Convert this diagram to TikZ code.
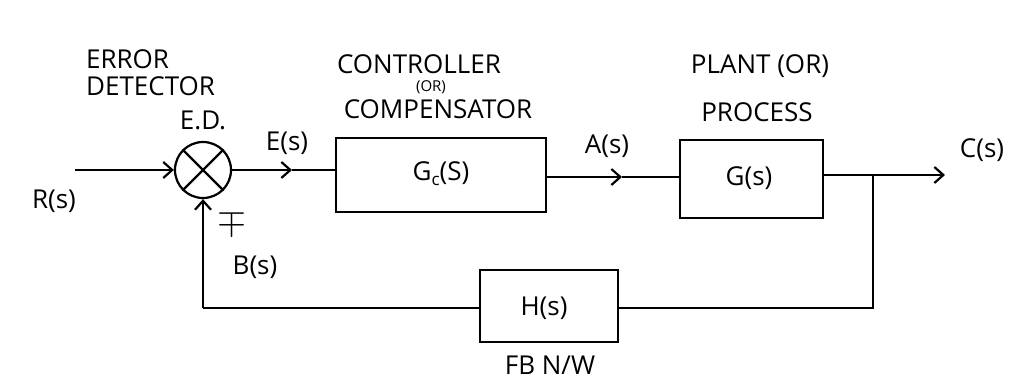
\documentclass[tikz,border=0pt]{standalone}
\usepackage{fontspec}
\setmainfont{Open Sans}
\usetikzlibrary{arrows.meta}
\begin{document}
\begin{tikzpicture}[x=1pt,y=-1pt,
  line width=2.2pt,
  lbl/.style={inner sep=0pt,font=\fontsize{26}{30}\selectfont},
  small/.style={inner sep=0pt,font=\fontsize{15}{17}\selectfont},
  blk/.style={draw,rectangle,inner sep=0pt},
  arr/.style={-{Straight Barb[length=9pt,width=16pt,line width=2.2pt]}}]
\useasboundingbox (0,0) rectangle (1026,380);
\fill[white] (0,0) rectangle (1026,380);
% blocks
\node[draw,circle,minimum size=56pt,inner sep=0pt] (sum) at (203,170) {};
\draw (sum.45) -- (sum.225) (sum.135) -- (sum.315);
\node[blk,minimum width=210pt,minimum height=74pt] (gc) at (441,175) {};
\node[blk,minimum width=143pt,minimum height=78pt] (g) at (751.5,179) {};
\node[blk,minimum width=138pt,minimum height=72pt] (h) at (549,306) {};
% coordinates
\coordinate (rin) at (75,170);
\coordinate (emid) at (292,170);
\coordinate (amid) at (622,177);
\coordinate (gout) at (823,175);
\coordinate (cout) at (945,175);
\coordinate (br) at (873,175);
\coordinate (brb) at (873,308);
\coordinate (fbl) at (203,308);
% connectors
\draw[arr] (rin) -- (sum.west);
\draw[arr] (sum.east) -- (emid);
\draw (emid) -- (emid -| gc.west);
\draw[arr] (gc.east |- amid) -- (amid);
\draw (amid) -- (amid -| g.west);
\draw[arr] (gout) -- (cout);
\draw (br) -- (brb) -- (brb -| h.east);
\draw (h.west |- fbl) -- (fbl);
\draw[arr] (fbl) -- (sum.south);
% labels
\node[lbl] (gctext) at (441,174) {G\raisebox{-0.35ex}{\fontsize{17}{18}\selectfont c}(S)};
\node[lbl] (gtext) at (749,178) {G(s)};
\node[lbl] (htext) at (544,308) {H(s)};
\node[lbl] (rs) at (54,201) {R(s)};
\node[lbl] (ed) at (203,120) {E.D.};
\node[lbl,anchor=west] (err) at (85,59) {ERROR};
\node[lbl,anchor=west] (det) at (85,86) {DETECTOR};
\node[lbl] (es) at (287,143) {E(s)};
\node[lbl] (ctrl) at (419,64) {CONTROLLER};
\node[small] (or1) at (431,87) {(OR)};
\node[lbl] (comp) at (438,109) {COMPENSATOR};
\node[lbl] (as) at (607,146) {A(s)};
\node[lbl] (plant) at (760,66) {PLANT (OR)};
\node[lbl] (proc) at (757,112) {PROCESS};
\node[lbl] (cs) at (982,150) {C(s)};
\node[lbl] (mp) at (232,222) {\scalebox{1.5}{$\mp$}};
\node[lbl] (bs) at (255,267) {B(s)};
\node[lbl,anchor=base] (fb) at (550,374) {FB N/W};
\end{tikzpicture}
\end{document}
